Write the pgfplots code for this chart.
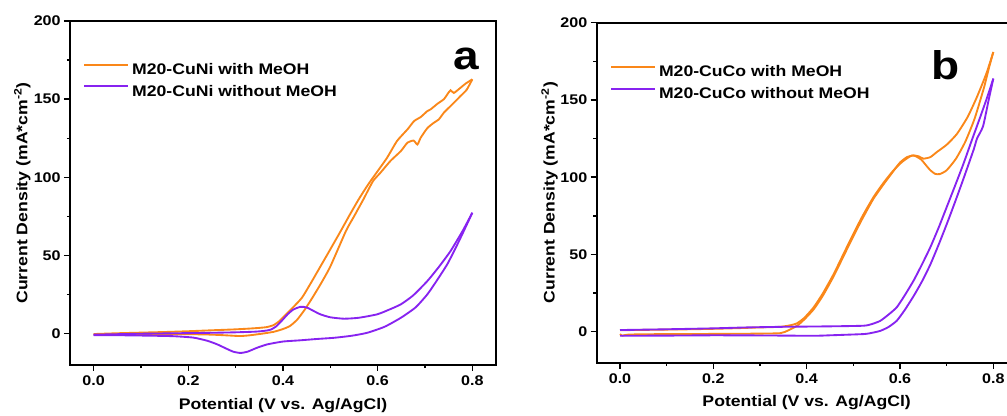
\documentclass[border=0pt]{standalone}
\usepackage{fontspec}
\setmainfont{Liberation Sans}[FakeStretch=1.15]
\usepackage{pgfplots}
\pgfplotsset{compat=1.18}

\definecolor{cvorange}{RGB}{250,135,25}
\definecolor{cvpurple}{RGB}{135,35,240}

\newcommand{\ticksfont}{\fontsize{10.5}{12}\selectfont\bfseries}
\newcommand{\labelsfont}{\fontsize{11.5}{14}\selectfont\bfseries}

\pgfplotsset{
  cvpanel/.style={
    scale only axis,
    anchor=south west,
    xmin=-0.05, xmax=0.85,
    ymin=-20, ymax=200,
    xtick={0,0.2,0.4,0.6,0.8},
    ytick={0,50,100,150,200},
    minor tick num=1,
    xtick pos=left, ytick pos=left,
    tick align=outside,
    major tick length=4.5pt,
    minor tick length=2.4pt,
    every tick/.style={black, line width=1.1pt},
    axis line style={line width=1.3pt},
    /pgf/number format/assume math mode=true,
    xticklabel style={font=\ticksfont, /pgf/number format/.cd, fixed, fixed zerofill, precision=1},
    yticklabel style={font=\ticksfont, xshift=1pt, /pgf/number format/fixed},
    xlabel={Potential (V vs. Ag/AgCl)},
    ylabel={Current Density (mA*cm\textsuperscript{-2})},
    xlabel style={font=\labelsfont, at={(axis description cs:0.5,-0.118)}, anchor=center},
    ylabel style={font=\labelsfont, at={(axis description cs:-0.112,0.5)}, anchor=center},
    legend style={draw=none, fill=none, anchor=north west, inner sep=0pt,
      font=\labelsfont,
      row sep=6.5pt, column sep=2.5pt, nodes={inner sep=0pt}},
    legend cell align=left,
    legend image code/.code={\draw[#1, line width=1.5pt] (0pt,4.2pt) -- (32.5pt,4.2pt);},
    cvline/.style={line width=1.4pt, smooth, tension=0.35},
  }
}

\begin{document}
\begin{tikzpicture}[x=1pt,y=1pt]
\path[use as bounding box] (0,0) rectangle (755.25,312);
\begin{scope}
\clip (0,0) rectangle (755.25,312);

% (a) M20-CuNi
\begin{axis}[cvpanel,
  at={(52.5pt,38.25pt)}, width=319.5pt, height=258pt,
  legend style={at={(axis description cs:0.031,0.877)}}]
\addplot[cvorange, cvline] coordinates {
  (0.000,-0.2)(0.050,0.3)(0.100,0.7)(0.150,1.1)(0.200,1.6)(0.250,2.2)
  (0.300,2.8)(0.340,3.5)(0.365,4.2)(0.380,5.5)(0.392,8)(0.405,12)
  (0.420,16.5)(0.440,23)(0.460,33)(0.480,43.5)(0.500,54)(0.522,65.7)
  (0.540,75.5)(0.560,86)(0.580,95.5)(0.600,104)(0.620,112.6)(0.641,123.3)
  (0.663,130.7)(0.677,136)(0.691,138.6)(0.705,142.4)(0.712,143.5)(0.726,147)
  (0.740,150)(0.747,153)(0.754,155.7)(0.761,154)(0.775,157.3)(0.786,160)
  (0.800,162.7)};
\addlegendentry{M20-CuNi with MeOH}
\addplot[cvorange, cvline, forget plot] coordinates {
  (0.800,162.7)(0.788,156)(0.775,152)(0.762,148)(0.754,145.6)(0.740,141.4)
  (0.729,137)(0.719,135)(0.705,131.5)(0.691,125.4)(0.684,121)(0.676,123.5)
  (0.663,122.2)(0.649,116.8)(0.627,110.5)(0.606,103)(0.590,97.5)(0.570,86)
  (0.550,75)(0.533,65.7)(0.500,43)(0.480,32)(0.460,22)(0.445,15)(0.430,9)
  (0.415,5)(0.400,3)(0.380,1.2)(0.355,0)(0.330,-1.0)(0.310,-1.5)(0.290,-1.2)
  (0.250,-0.6)(0.200,-0.3)(0.100,-0.4)(0.000,-0.6)};
\addplot[cvpurple, cvline] coordinates {
  (0.000,-0.6)(0.050,-0.3)(0.100,0)(0.150,0.2)(0.200,0.4)(0.250,0.6)
  (0.300,0.9)(0.340,1.3)(0.360,1.8)(0.374,2.6)(0.386,4.8)(0.398,8.5)
  (0.410,12.5)(0.422,15.5)(0.437,17.2)(0.450,16.8)(0.465,14.5)(0.479,12.4)
  (0.500,10.5)(0.529,9.6)(0.560,10.2)(0.599,12.4)(0.625,15.5)(0.649,18.8)
  (0.675,24.5)(0.705,33.7)(0.730,43)(0.754,52.9)(0.780,66)(0.800,77.4)};
\addlegendentry{M20-CuNi without MeOH}
\addplot[cvpurple, cvline, forget plot] coordinates {
  (0.800,77.4)(0.782,65.7)(0.765,55)(0.747,44.4)(0.725,34)(0.705,25.2)
  (0.680,16.8)(0.649,10.2)(0.615,4.5)(0.578,0.6)(0.545,-1.3)(0.508,-2.6)
  (0.470,-3.4)(0.437,-4.2)(0.400,-5)(0.367,-6.8)(0.345,-9)(0.325,-11.5)
  (0.310,-12.3)(0.295,-11.5)(0.280,-9.5)(0.261,-6.8)(0.240,-4.5)(0.211,-2.5)
  (0.170,-1.6)(0.127,-1.3)(0.060,-1.0)(0.000,-0.9)};
\node[anchor=base west, inner sep=0pt, font=\fontsize{30}{34}\selectfont\bfseries]
  at (axis description cs:0.900,0.858) {a};
\end{axis}

% (b) M20-CuCo
\begin{axis}[cvpanel,
  at={(447.5pt,40pt)}, width=315pt, height=255pt,
  legend style={at={(axis description cs:0.032,0.874)}}]
\addplot[cvorange, cvline] coordinates {
  (0.000,1)(0.050,1.2)(0.100,1.4)(0.150,1.6)(0.200,1.9)(0.250,2.3)
  (0.300,2.8)(0.344,3.2)(0.365,4.2)(0.379,5.4)(0.395,9)(0.415,15.8)
  (0.435,25)(0.458,37.4)(0.480,51)(0.500,63.3)(0.520,75)(0.543,87)
  (0.565,96.5)(0.586,104.4)(0.605,110)(0.625,114)(0.640,113.5)(0.650,112)
  (0.665,113)(0.679,116.3)(0.700,121)(0.722,128)(0.745,139)(0.765,152)
  (0.785,167)(0.800,181)};
\addlegendentry{M20-CuCo with MeOH}
\addplot[cvorange, cvline, forget plot] coordinates {
  (0.800,181)(0.790,170)(0.780,158)(0.760,138)(0.740,123)(0.720,112)
  (0.700,104.5)(0.685,102)(0.675,102.2)(0.665,104.5)(0.655,108)(0.645,111.5)
  (0.630,114)(0.615,113)(0.600,109.5)(0.586,104)(0.565,95.5)(0.543,86)
  (0.520,73.5)(0.500,61.8)(0.480,49.5)(0.458,36)(0.435,23.5)(0.415,14.5)
  (0.395,8)(0.380,4)(0.360,0.8)(0.344,-0.9)(0.300,-1.2)(0.200,-1.4)(0.100,-1.5)
  (0.020,-1.8)(0.005,-2.5)(0.000,-1.5)};
\addplot[cvpurple, cvline] coordinates {
  (0.000,1.1)(0.100,1.6)(0.200,2.2)(0.272,2.8)(0.350,3.2)(0.450,3.5)
  (0.522,3.9)(0.540,5)(0.558,7.1)(0.575,11)(0.593,15.8)(0.610,23.5)
  (0.629,33)(0.647,43.5)(0.665,54.7)(0.683,67.5)(0.700,80.6)(0.718,94.5)
  (0.736,108.7)(0.754,124)(0.772,139)(0.786,151)(0.800,163.8)};
\addlegendentry{M20-CuCo without MeOH}
\addplot[cvpurple, cvline, forget plot] coordinates {
  (0.800,163.8)(0.790,150)(0.778,133)(0.765,125)(0.758,118)(0.736,99)
  (0.718,84)(0.700,69.5)(0.683,56.5)(0.665,43.5)(0.647,32.5)(0.629,23)
  (0.610,14)(0.593,7.1)(0.575,3)(0.558,0.6)(0.540,-0.7)(0.522,-1.5)
  (0.450,-2.3)(0.415,-2.6)(0.300,-2.4)(0.200,-2.3)(0.100,-2.5)(0.000,-2.6)};
\node[anchor=base west, inner sep=0pt, font=\fontsize{30}{34}\selectfont\bfseries]
  at (axis description cs:0.797,0.833) {b};
\end{axis}
\end{scope}
\end{tikzpicture}
\end{document}
